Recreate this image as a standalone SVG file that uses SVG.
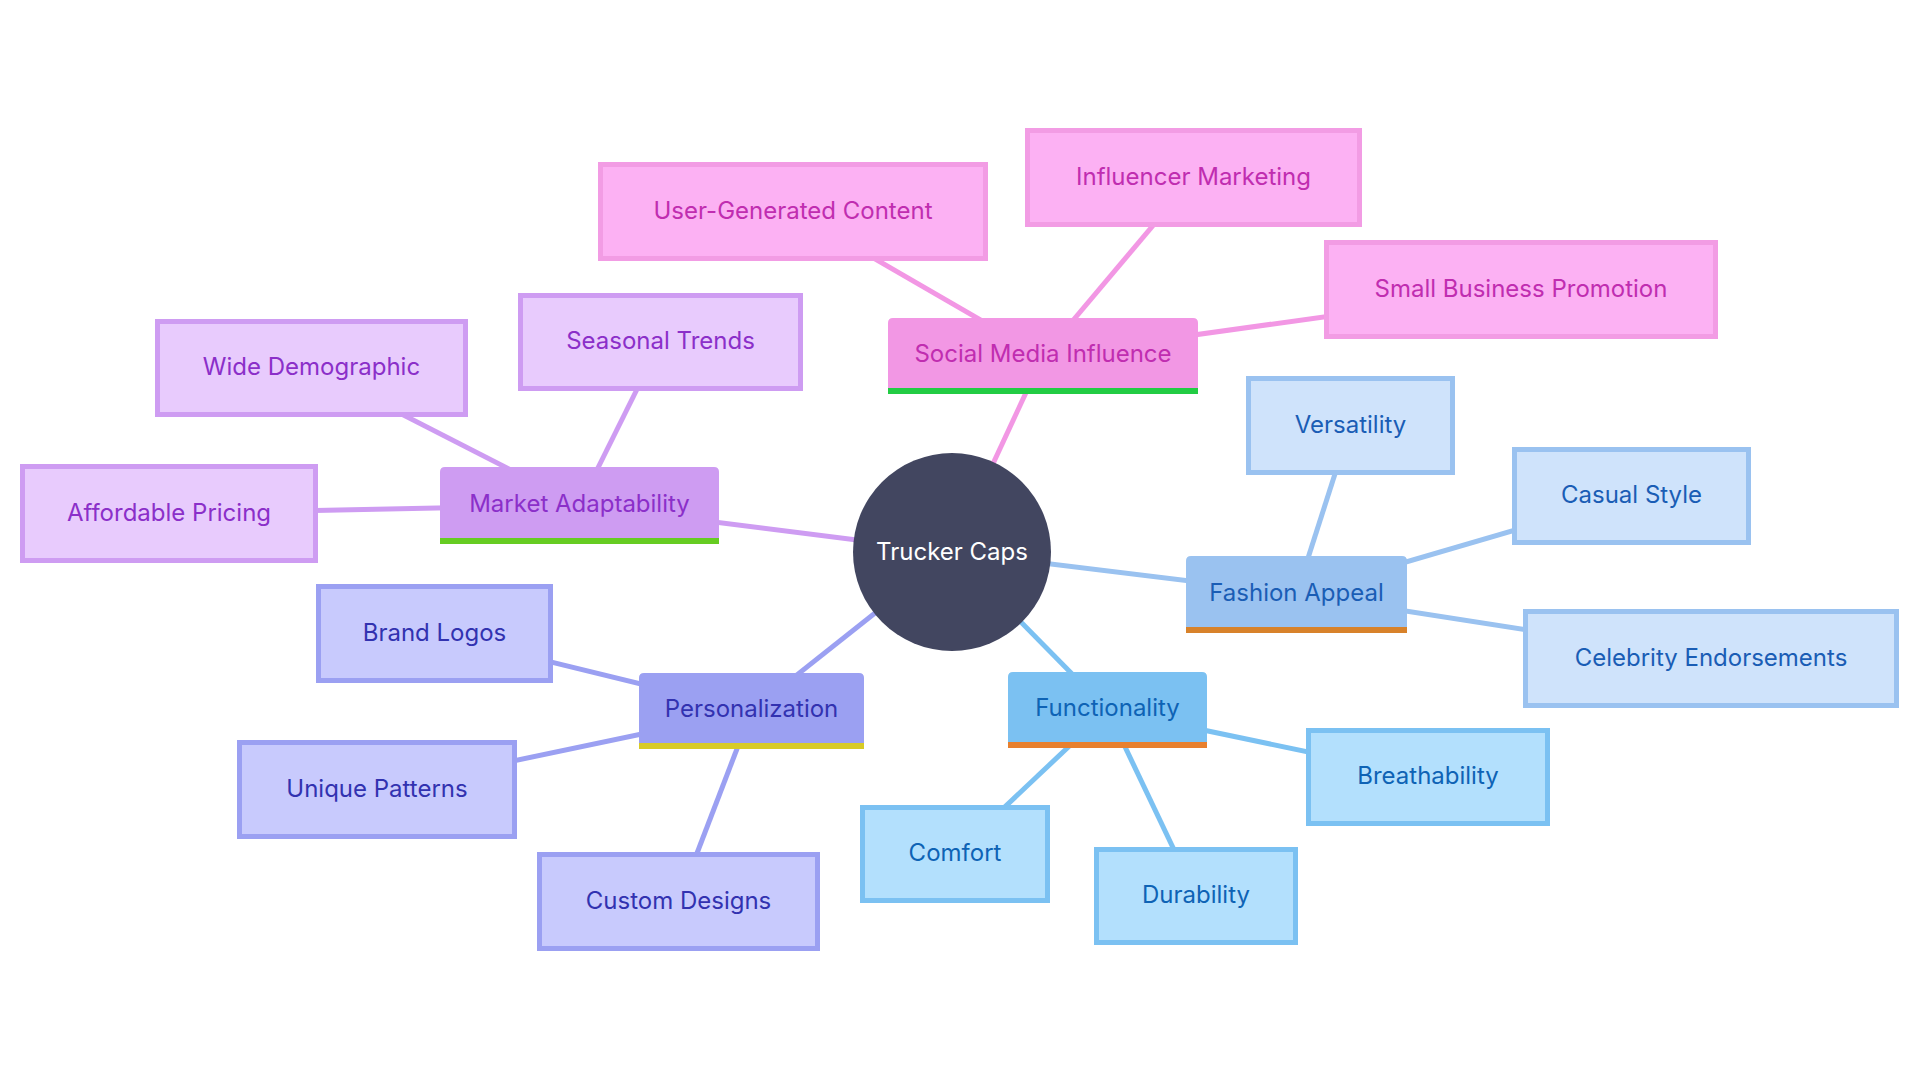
<svg xmlns="http://www.w3.org/2000/svg" width="1920" height="1080" viewBox="0 0 1920 1080">
<style>
text{font-family:Inter,"Noto Sans","Liberation Sans",sans-serif;font-size:24px;text-anchor:middle;dominant-baseline:central}
.e{fill:none;stroke-width:5;stroke-linecap:butt}
.leaf{stroke-width:5}
.pk .m{fill:#F297E4}.pk .leaf{fill:#FCB1F3;stroke:#F29CE4}.pk text{fill:#C02DB0}
.pu .m{fill:#CE9CF2}.pu .leaf{fill:#E8CBFD;stroke:#CE9CF2}.pu text{fill:#8B2FC9}
.in .m{fill:#9BA0F2}.in .leaf{fill:#C8CAFD;stroke:#9BA0F2}.in text{fill:#3232B0}
.lb .m{fill:#7BC1F2}.lb .leaf{fill:#B3E0FD;stroke:#7BC1F2}.lb text{fill:#0E63B5}
.bl .m{fill:#9AC2F0}.bl .leaf{fill:#CFE3FB;stroke:#9AC2F0}.bl text{fill:#1A5DB5}
</style>
<rect width="1920" height="1080" fill="#ffffff"/>
<g id="connectors">
<g stroke="#F297E4" class="e">
<line x1="952" y1="552" x2="1043" y2="356"/>
<line x1="1043" y1="356" x2="793" y2="211.5"/>
<line x1="1043" y1="356" x2="1193.5" y2="177.5"/>
<line x1="1043" y1="356" x2="1521" y2="289.5"/>
</g>
<g stroke="#CE9CF2" class="e">
<line x1="952" y1="552" x2="579.5" y2="505"/>
<line x1="579.5" y1="505" x2="660.5" y2="342"/>
<line x1="579.5" y1="505" x2="311.5" y2="368"/>
<line x1="579.5" y1="505" x2="169" y2="513.5"/>
</g>
<g stroke="#9BA0F2" class="e">
<line x1="952" y1="552" x2="751.5" y2="711"/>
<line x1="751.5" y1="711" x2="434.5" y2="633.5"/>
<line x1="751.5" y1="711" x2="377" y2="789.5"/>
<line x1="751.5" y1="711" x2="678.5" y2="901.5"/>
</g>
<g stroke="#7BC1F2" class="e">
<line x1="952" y1="552" x2="1107.5" y2="710"/>
<line x1="1107.5" y1="710" x2="955" y2="854"/>
<line x1="1107.5" y1="710" x2="1196" y2="896"/>
<line x1="1107.5" y1="710" x2="1428" y2="777"/>
</g>
<g stroke="#9AC2F0" class="e">
<line x1="952" y1="552" x2="1296.5" y2="594"/>
<line x1="1296.5" y1="594" x2="1350.5" y2="425.5"/>
<line x1="1296.5" y1="594" x2="1631.5" y2="496"/>
<line x1="1296.5" y1="594" x2="1711" y2="658.5"/>
</g>
</g>

<g id="root">
<circle cx="952" cy="552" r="99" fill="#424660"/>
<text x="952" y="551" style="fill:#ffffff">Trucker Caps</text>
</g>

<g class="pk">
<g id="social-media">
<path class="m" d="M888,388 V323 Q888,318 893,318 H1193 Q1198,318 1198,323 V388 Z"/>
<rect x="888" y="388" width="310" height="6" fill="#22CC44"/>
<text x="1043" y="353">Social Media Influence</text>
</g>
<g id="ugc"><rect class="leaf" x="600.5" y="164.5" width="385" height="94"/><text x="793" y="210">User-Generated Content</text></g>
<g id="influencer"><rect class="leaf" x="1027.5" y="130.5" width="332" height="94"/><text x="1193.5" y="176">Influencer Marketing</text></g>
<g id="small-business"><rect class="leaf" x="1326.5" y="242.5" width="389" height="94"/><text x="1521" y="288">Small Business Promotion</text></g>
</g>

<g class="pu">
<g id="market">
<path class="m" d="M440,538 V472 Q440,467 445,467 H714 Q719,467 719,472 V538 Z"/>
<rect x="440" y="538" width="279" height="6" fill="#66CC22"/>
<text x="579.5" y="503">Market Adaptability</text>
</g>
<g id="seasonal"><rect class="leaf" x="520.5" y="295.5" width="280" height="93"/><text x="660.5" y="340">Seasonal Trends</text></g>
<g id="wide"><rect class="leaf" x="157.5" y="321.5" width="308" height="93"/><text x="311.5" y="366">Wide Demographic</text></g>
<g id="affordable"><rect class="leaf" x="22.5" y="466.5" width="293" height="94"/><text x="169" y="512">Affordable Pricing</text></g>
</g>

<g class="in">
<g id="personalization">
<path class="m" d="M639,743 V678 Q639,673 644,673 H859 Q864,673 864,678 V743 Z"/>
<rect x="639" y="743" width="225" height="6" fill="#D8CB26"/>
<text x="751.5" y="708">Personalization</text>
</g>
<g id="brand"><rect class="leaf" x="318.5" y="586.5" width="232" height="94"/><text x="434.5" y="632">Brand Logos</text></g>
<g id="unique"><rect class="leaf" x="239.5" y="742.5" width="275" height="94"/><text x="377" y="788">Unique Patterns</text></g>
<g id="custom"><rect class="leaf" x="539.5" y="854.5" width="278" height="94"/><text x="678.5" y="900">Custom Designs</text></g>
</g>

<g class="lb">
<g id="functionality">
<path class="m" d="M1008,742 V677 Q1008,672 1013,672 H1202 Q1207,672 1207,677 V742 Z"/>
<rect x="1008" y="742" width="199" height="6" fill="#E8802E"/>
<text x="1107.5" y="707">Functionality</text>
</g>
<g id="comfort"><rect class="leaf" x="862.5" y="807.5" width="185" height="93"/><text x="955" y="852">Comfort</text></g>
<g id="durability"><rect class="leaf" x="1096.5" y="849.5" width="199" height="93"/><text x="1196" y="894">Durability</text></g>
<g id="breathability"><rect class="leaf" x="1308.5" y="730.5" width="239" height="93"/><text x="1428" y="775">Breathability</text></g>
</g>

<g class="bl">
<g id="fashion">
<path class="m" d="M1186,627 V561 Q1186,556 1191,556 H1402 Q1407,556 1407,561 V627 Z"/>
<rect x="1186" y="627" width="221" height="6" fill="#D8822A"/>
<text x="1296.5" y="592">Fashion Appeal</text>
</g>
<g id="versatility"><rect class="leaf" x="1248.5" y="378.5" width="204" height="94"/><text x="1350.5" y="424">Versatility</text></g>
<g id="casual"><rect class="leaf" x="1514.5" y="449.5" width="234" height="93"/><text x="1631.5" y="494">Casual Style</text></g>
<g id="celebrity"><rect class="leaf" x="1525.5" y="611.5" width="371" height="94"/><text x="1711" y="657">Celebrity Endorsements</text></g>
</g>
</svg>
